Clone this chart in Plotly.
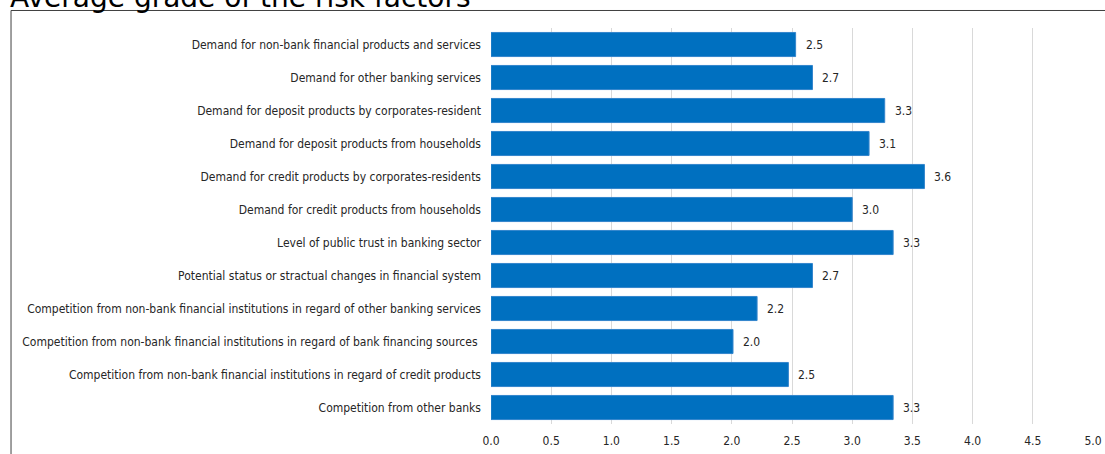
import plotly.graph_objects as go

# Risk factors, listed top to bottom
factors = [
    "Demand for non-bank financial products and services",
    "Demand for other banking services",
    "Demand for deposit products by corporates-resident",
    "Demand for deposit products from households",
    "Demand for credit products by corporates-residents",
    "Demand for credit products from households",
    "Level of public trust in banking sector",
    "Potential status or stractual changes in financial system",
    "Competition from non-bank financial institutions in regard of other banking services",
    "Competition from non-bank financial institutions in regard of bank financing sources ",
    "Competition from non-bank financial institutions in regard of credit products",
    "Competition from other banks",
]

# Average grade per factor
grades = [2.53, 2.67, 3.27, 3.14, 3.60, 3.00, 3.34, 2.67, 2.21, 2.01, 2.47, 3.34]

x_ticks = [0, 0.5, 1.0, 1.5, 2.0, 2.5, 3.0, 3.5, 4.0, 4.5, 5.0]
title_text = "Average grade of the risk factors"

BAR_COLOR = "#0070C0"
TEXT_COLOR = "#262626"
LABEL_FONT = "DejaVu Sans Condensed"

fig = go.Figure(
    go.Bar(
        x=grades,
        y=factors,
        orientation="h",
        marker=dict(color=BAR_COLOR, line=dict(color="#3385cc", width=1)),
        hoverinfo="skip",
    )
)

# value labels just to the right of each bar
annotations = [
    dict(
        x=v, y=f, xref="x", yref="y",
        text=f"{v:.1f}", showarrow=False,
        xanchor="left", yanchor="middle", xshift=8,
        font=dict(family=LABEL_FONT, size=12, color=TEXT_COLOR),
    )
    for f, v in zip(factors, grades)
]

# chart title, partly above the top edge of the page
annotations.append(
    dict(
        x=-0.8023, y=1.0303, xref="paper", yref="paper",
        text=title_text, showarrow=False,
        xanchor="left", yanchor="bottom",
        font=dict(family="DejaVu Sans", size=28, color="#000000"),
    )
)

fig.update_layout(
    width=1105,
    height=454,
    margin=dict(l=491, r=12, t=28, b=30, autoexpand=False),
    paper_bgcolor="white",
    plot_bgcolor="white",
    bargap=0.27,
    showlegend=False,
    annotations=annotations,
    shapes=[
        # frame around the chart area
        dict(
            type="rect", xref="paper", yref="paper",
            x0=-0.7973, x1=1.2, y0=-0.3, y1=1.0442,
            line=dict(color="#404040", width=1),
            fillcolor="rgba(0,0,0,0)", layer="below",
        )
    ],
    xaxis=dict(
        range=[0, 5],
        tickvals=x_ticks,
        ticktext=[f"{t:.1f}" for t in x_ticks],
        showgrid=True,
        gridcolor="#d9d9d9",
        gridwidth=1,
        zeroline=False,
        showline=False,
        ticks="",
        automargin=False,
        ticklabelstandoff=8,
        tickfont=dict(family=LABEL_FONT, size=12, color=TEXT_COLOR),
    ),
    yaxis=dict(
        autorange="reversed",
        showgrid=False,
        zeroline=False,
        showline=False,
        ticks="",
        automargin=False,
        ticklabelstandoff=9,
        tickfont=dict(family=LABEL_FONT, size=12, color=TEXT_COLOR),
    ),
)

fig.write_html("out.html")
